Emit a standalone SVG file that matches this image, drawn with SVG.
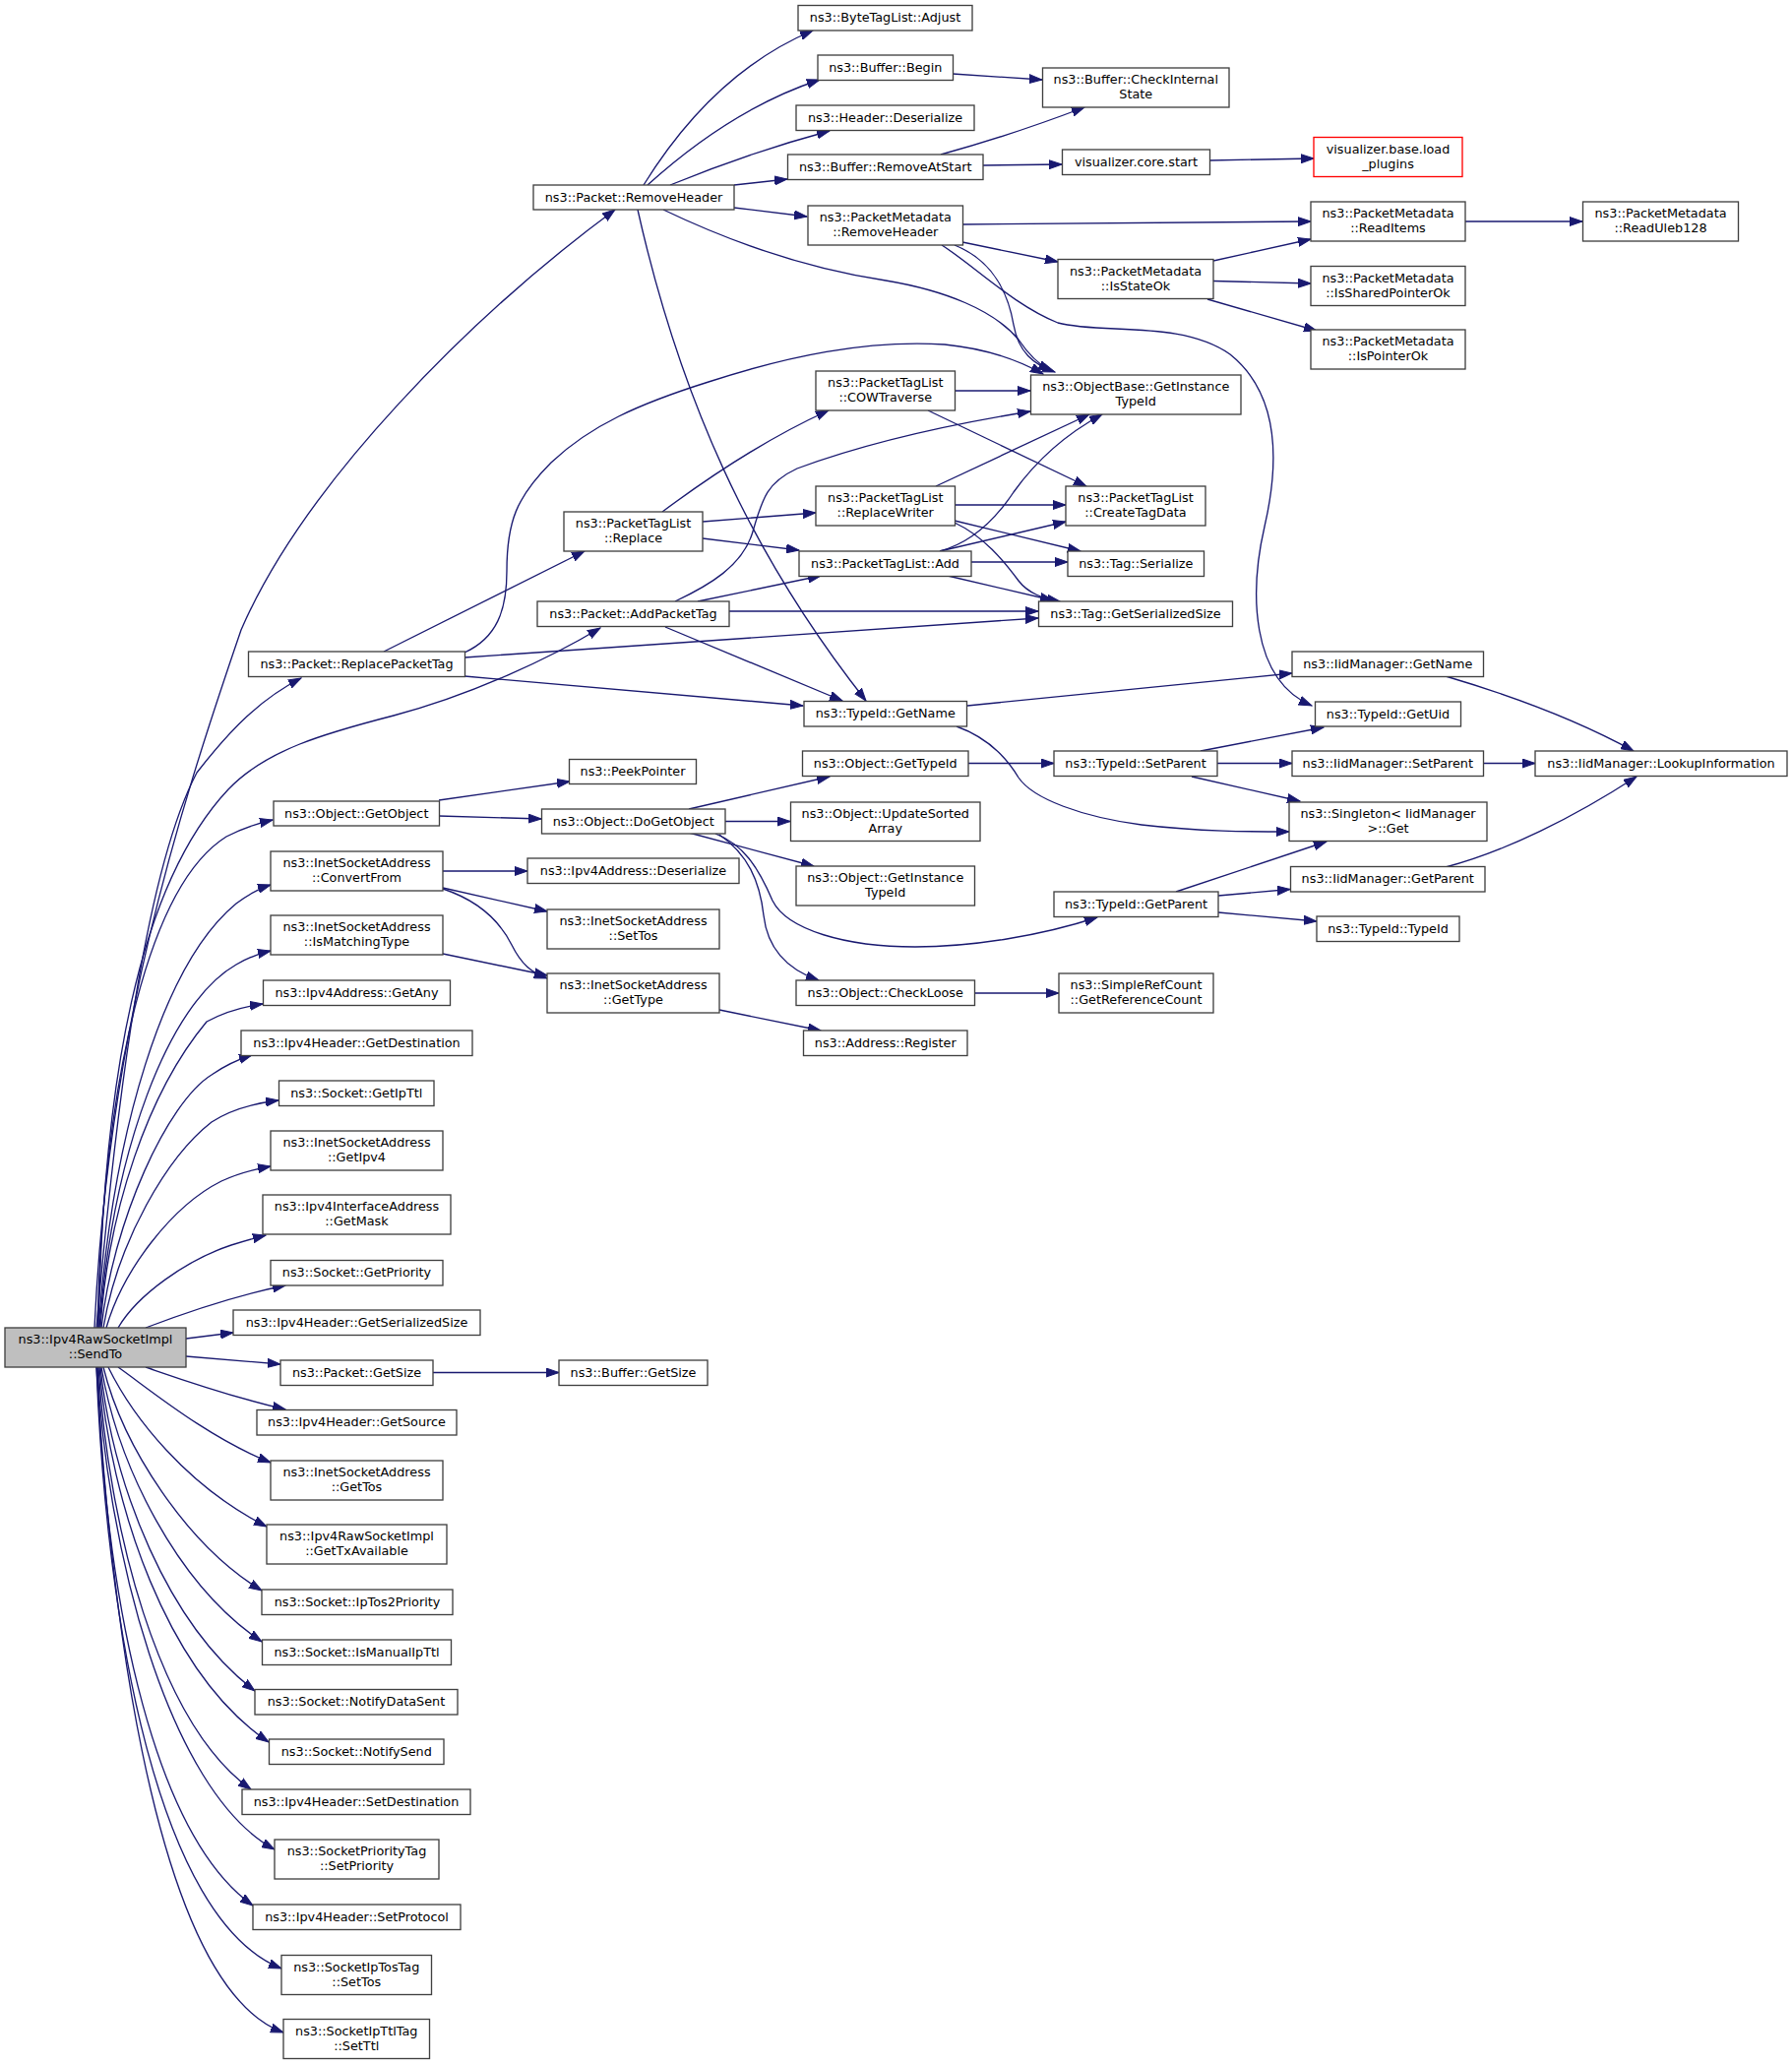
<svg xmlns="http://www.w3.org/2000/svg" width="1821" height="2097" viewBox="0 0 1821 2097">
<style>
.node rect{fill:#fff;stroke:#404040;stroke-width:1.33}
.node text{font-family:"DejaVu Sans","Liberation Sans",sans-serif;font-size:12.8px;text-anchor:middle;fill:#000}
.root rect{fill:#bfbfbf}
.ext rect{stroke:#ff0000}
.edges path{fill:none;stroke:#191970;stroke-width:1.33;marker-end:url(#arr)}
</style>
<defs>
<marker id="arr" markerUnits="userSpaceOnUse" markerWidth="14" markerHeight="10" refX="13" refY="5" orient="auto" viewBox="0 0 14 10">
<path d="M0,0.5 L13,5 L0,9.5 z" fill="#191970" stroke="#191970" stroke-width="1"/>
</marker>
</defs>
<rect width="1821" height="2097" fill="#fff"/>
<g class="edges" id="edges">
<!-- SendTo upward -->
<path d="M96,1349 C110,1050 180,830 245,640 C310,490 480,320 625,213"/>
<path d="M98,1349 C120,1100 150,880 200,785 C235,740 265,710 306,689"/>
<path d="M100,1349 C105,1100 140,900 232,802 C270,762 330,745 400,727 C480,706 560,668 610,638"/>
<path d="M99,1349 C105,1100 150,900 230,850 C245,842 260,837 277,833"/>
<path d="M100,1349 C115,1150 165,980 240,918 C252,909 262,903 275,899"/>
<path d="M101,1349 C115,1170 170,1020 240,980 C252,973 262,969 275,966"/>
<path d="M102,1349 C110,1230 150,1110 210,1038 C228,1028 245,1023 267,1020"/>
<path d="M103,1349 C115,1240 170,1120 215,1092 C228,1083 240,1077 256,1072"/>
<path d="M105,1349 C120,1260 170,1175 215,1140 C235,1127 258,1121 283,1118"/>
<path d="M108,1349 C125,1290 175,1225 225,1200 C242,1192 258,1188 275,1185"/>
<path d="M120,1349 C140,1315 190,1280 235,1265 C248,1261 258,1258 270,1255"/>
<path d="M148,1349 C190,1333 240,1316 290,1306"/>
<path d="M189,1360 L237,1354"/>
<path d="M189,1378 L285,1386"/>
<!-- SendTo downward -->
<path d="M148,1389 C180,1400 230,1418 290,1432"/>
<path d="M120,1389 C150,1410 210,1460 275,1486"/>
<path d="M110,1389 C135,1440 190,1510 271,1551"/>
<path d="M105,1389 C125,1470 190,1570 266,1616"/>
<path d="M103,1389 C120,1490 180,1610 266,1668"/>
<path d="M102,1389 C115,1510 170,1650 259,1718"/>
<path d="M101,1389 C112,1530 170,1700 273,1770"/>
<path d="M100,1389 C110,1550 160,1750 255,1818"/>
<path d="M99,1389 C108,1570 170,1820 279,1879"/>
<path d="M99,1389 C105,1600 150,1860 257,1936"/>
<path d="M98,1389 C108,1650 160,1950 286,2000"/>
<path d="M98,1389 C115,1680 165,2020 288,2065"/>
<!-- Packet::RemoveHeader -->
<path d="M654,188 C690,130 745,65 826,31"/>
<path d="M658,188 C700,150 760,105 833,81"/>
<path d="M681,188 C720,172 780,150 843,133"/>
<path d="M746,188 L800,182"/>
<path d="M746,211 L820,220"/>
<path d="M674,213 C720,235 800,270 900,285 C960,295 1010,315 1035,345 C1045,360 1055,370 1068,377"/>
<path d="M648,213 C690,400 760,560 880,712"/>
<!-- Buffer -->
<path d="M968,75 L1059,81"/>
<path d="M956,157 C1000,145 1060,125 1102,109"/>
<path d="M999,168 L1079,167"/>
<path d="M1229,163 L1335,161"/>
<!-- PacketMetadata -->
<path d="M978,228 L1332,225"/>
<path d="M978,246 L1075,266"/>
<path d="M970,249 C1010,265 1025,300 1030,330 C1035,358 1050,370 1072,378"/>
<path d="M957,249 C990,270 1030,310 1075,328 C1120,340 1200,325 1250,360 C1300,400 1300,470 1285,535 C1270,600 1270,690 1333,717"/>
<path d="M1233,265 L1332,243"/>
<path d="M1233,285.5 L1332,288"/>
<path d="M1227,304 L1338,336"/>
<path d="M1489,225 L1608,225"/>
<!-- Tags -->
<path d="M390,662 L594,560"/>
<path d="M472,663 C505,648 515,620 515,580 C515,530 525,505 560,470 C600,432 650,410 720,388 C800,362 880,345 960,350 C1000,354 1035,366 1060,380"/>
<path d="M472,668 L1055,628"/>
<path d="M472,687 L816,717"/>
<path d="M686,611 C720,595 755,575 765,540 C775,505 780,490 810,476 C880,450 960,432 1047,418"/>
<path d="M709,611 L834,585"/>
<path d="M741,621 L1055,621"/>
<path d="M676,637 L856,712"/>
<path d="M673,520 C720,485 780,445 842,417"/>
<path d="M714,530 L829,521"/>
<path d="M714,547 L812,559"/>
<path d="M970,397 L1047,397"/>
<path d="M943,417 L1104,494"/>
<path d="M951,494 L1107,421"/>
<path d="M970,513 L1083,513"/>
<path d="M970,529 L1098,560"/>
<path d="M970,531 C1000,545 1020,570 1035,590 C1045,603 1060,608 1077,611"/>
<path d="M955,560 C985,552 1010,530 1030,500 C1055,465 1085,440 1120,421"/>
<path d="M955,560 L1083,530"/>
<path d="M987,571 L1085,571"/>
<path d="M963,585 L1070,610"/>
<!-- TypeId / IidManager -->
<path d="M983,717 L1313,684"/>
<path d="M972,738 C1000,748 1020,765 1035,790 C1050,812 1100,830 1160,838 C1220,845 1270,845 1310,845"/>
<path d="M1469,687 C1530,705 1600,730 1660,763"/>
<path d="M1508,775.5 L1560,775.5"/>
<path d="M1469,881 C1530,865 1600,830 1663,789"/>
<path d="M1220,763 L1345,739"/>
<path d="M1237,775.5 L1313,775.5"/>
<path d="M1211,789 L1321,814"/>
<path d="M984,775.5 L1071,775.5"/>
<!-- DoGetObject -->
<path d="M700,822 L843,789"/>
<path d="M737,834.5 L803,834.5"/>
<path d="M700,846 L827,880"/>
<path d="M727,847 C755,858 770,880 785,915 C800,945 860,962 930,962 C990,962 1060,950 1115,932"/>
<path d="M731,848 C760,868 772,895 776,930 C780,965 800,985 832,996"/>
<path d="M1195,906 L1348,855"/>
<path d="M1238,910 L1311,903.5"/>
<path d="M1238,927 L1338,936"/>
<path d="M990,1009 L1076,1009"/>
<!-- GetObject / Address -->
<path d="M446,813 L579,794"/>
<path d="M446,829 L550,832"/>
<path d="M450,885 L536,885"/>
<path d="M450,902 L556,926"/>
<path d="M450,903 C480,913 505,930 520,960 C530,980 540,988 556,994"/>
<path d="M450,969 L556,991"/>
<path d="M731,1026 L834,1047"/>
<path d="M440,1394.5 L568,1394.5"/>
</g>
<g id="n_sendto" class="node root"><rect x="5" y="1349" width="184" height="40"/><text x="97" y="1365">ns3::Ipv4RawSocketImpl</text><text x="97" y="1380">::SendTo</text></g>
<g id="n_removeheader" class="node"><rect x="542" y="188" width="204" height="25"/><text x="644" y="204.5">ns3::Packet::RemoveHeader</text></g>
<g id="n_adjust" class="node"><rect x="811" y="5.5" width="177" height="25.5"/><text x="899.5" y="22">ns3::ByteTagList::Adjust</text></g>
<g id="n_begin" class="node"><rect x="831" y="56" width="137.5" height="25.5"/><text x="899.75" y="72.5">ns3::Buffer::Begin</text></g>
<g id="n_checkinternal" class="node"><rect x="1059.5" y="69" width="189.5" height="40"/><text x="1154.25" y="85">ns3::Buffer::CheckInternal</text><text x="1154.25" y="100">State</text></g>
<g id="n_headerdeser" class="node"><rect x="809" y="107" width="181" height="25.5"/><text x="899.5" y="123.5">ns3::Header::Deserialize</text></g>
<g id="n_removeatstart" class="node"><rect x="800.5" y="157" width="198.5" height="25.5"/><text x="899.75" y="173.5">ns3::Buffer::RemoveAtStart</text></g>
<g id="n_corestart" class="node"><rect x="1079.5" y="152" width="150" height="25.5"/><text x="1154.5" y="168.5">visualizer.core.start</text></g>
<g id="n_loadplugins" class="node ext"><rect x="1335" y="139.5" width="151" height="40"/><text x="1410.5" y="155.5">visualizer.base.load</text><text x="1410.5" y="170.5">_plugins</text></g>
<g id="n_pmremoveheader" class="node"><rect x="821" y="209" width="157.5" height="40"/><text x="899.75" y="225">ns3::PacketMetadata</text><text x="899.75" y="240">::RemoveHeader</text></g>
<g id="n_readitems" class="node"><rect x="1332" y="205" width="157" height="40"/><text x="1410.5" y="221">ns3::PacketMetadata</text><text x="1410.5" y="236">::ReadItems</text></g>
<g id="n_readuleb" class="node"><rect x="1608.5" y="205" width="158" height="40"/><text x="1687.5" y="221">ns3::PacketMetadata</text><text x="1687.5" y="236">::ReadUleb128</text></g>
<g id="n_isstateok" class="node"><rect x="1075" y="263.5" width="158" height="40"/><text x="1154" y="279.5">ns3::PacketMetadata</text><text x="1154" y="294.5">::IsStateOk</text></g>
<g id="n_issharedptr" class="node"><rect x="1332" y="270.5" width="157" height="40"/><text x="1410.5" y="286.5">ns3::PacketMetadata</text><text x="1410.5" y="301.5">::IsSharedPointerOk</text></g>
<g id="n_isptrok" class="node"><rect x="1332" y="335" width="157" height="40"/><text x="1410.5" y="351">ns3::PacketMetadata</text><text x="1410.5" y="366">::IsPointerOk</text></g>
<g id="n_obgetinst" class="node"><rect x="1047.5" y="381" width="213.5" height="40"/><text x="1154.25" y="397">ns3::ObjectBase::GetInstance</text><text x="1154.25" y="412">TypeId</text></g>
<g id="n_cowtraverse" class="node"><rect x="829" y="377" width="141.5" height="40"/><text x="899.75" y="393">ns3::PacketTagList</text><text x="899.75" y="408">::COWTraverse</text></g>
<g id="n_replace" class="node"><rect x="573" y="520" width="141" height="40"/><text x="643.5" y="536">ns3::PacketTagList</text><text x="643.5" y="551">::Replace</text></g>
<g id="n_replacewriter" class="node"><rect x="829" y="494" width="141.5" height="40"/><text x="899.75" y="510">ns3::PacketTagList</text><text x="899.75" y="525">::ReplaceWriter</text></g>
<g id="n_createtagdata" class="node"><rect x="1083" y="494" width="142" height="40"/><text x="1154" y="510">ns3::PacketTagList</text><text x="1154" y="525">::CreateTagData</text></g>
<g id="n_ptladd" class="node"><rect x="812" y="560" width="175" height="25.5"/><text x="899.5" y="576.5">ns3::PacketTagList::Add</text></g>
<g id="n_tagserialize" class="node"><rect x="1085" y="560" width="138.5" height="25.5"/><text x="1154.25" y="576.5">ns3::Tag::Serialize</text></g>
<g id="n_addpackettag" class="node"><rect x="546" y="611" width="195" height="25.5"/><text x="643.5" y="627.5">ns3::Packet::AddPacketTag</text></g>
<g id="n_taggetsersize" class="node"><rect x="1055.5" y="611" width="197" height="25.5"/><text x="1154" y="627.5">ns3::Tag::GetSerializedSize</text></g>
<g id="n_replacepackettag" class="node"><rect x="252.5" y="662" width="220" height="25.5"/><text x="362.5" y="678.5">ns3::Packet::ReplacePacketTag</text></g>
<g id="n_iidgetname" class="node"><rect x="1313" y="662" width="194.5" height="25.5"/><text x="1410.25" y="678.5">ns3::IidManager::GetName</text></g>
<g id="n_typeidgetname" class="node"><rect x="817" y="712.5" width="165.5" height="25.5"/><text x="899.75" y="729">ns3::TypeId::GetName</text></g>
<g id="n_getuid" class="node"><rect x="1336.5" y="713" width="148" height="25"/><text x="1410.5" y="729.5">ns3::TypeId::GetUid</text></g>
<g id="n_peekpointer" class="node"><rect x="578.5" y="771.5" width="129" height="25"/><text x="643" y="788">ns3::PeekPointer</text></g>
<g id="n_getobject" class="node"><rect x="278" y="814" width="168.5" height="25"/><text x="362.25" y="830.5">ns3::Object::GetObject</text></g>
<g id="n_objgettypeid" class="node"><rect x="815.5" y="763" width="168.5" height="25.5"/><text x="899.75" y="779.5">ns3::Object::GetTypeId</text></g>
<g id="n_setparent" class="node"><rect x="1071" y="763" width="166" height="25.5"/><text x="1154" y="779.5">ns3::TypeId::SetParent</text></g>
<g id="n_iidsetparent" class="node"><rect x="1313" y="763" width="194.5" height="25.5"/><text x="1410.25" y="779.5">ns3::IidManager::SetParent</text></g>
<g id="n_lookup" class="node"><rect x="1560" y="763" width="256" height="25.5"/><text x="1688" y="779.5">ns3::IidManager::LookupInformation</text></g>
<g id="n_dogetobject" class="node"><rect x="550.5" y="822" width="186.5" height="25"/><text x="643.75" y="838.5">ns3::Object::DoGetObject</text></g>
<g id="n_updatesorted" class="node"><rect x="803.5" y="815" width="192.5" height="39.5"/><text x="899.75" y="831">ns3::Object::UpdateSorted</text><text x="899.75" y="846">Array</text></g>
<g id="n_singleton" class="node"><rect x="1310" y="815" width="201" height="39.5"/><text x="1410.5" y="831">ns3::Singleton&lt; IidManager</text><text x="1410.5" y="846">&gt;::Get</text></g>
<g id="n_convertfrom" class="node"><rect x="275" y="865" width="175" height="40"/><text x="362.5" y="881">ns3::InetSocketAddress</text><text x="362.5" y="896">::ConvertFrom</text></g>
<g id="n_ipv4deser" class="node"><rect x="536" y="872" width="215" height="25.5"/><text x="643.5" y="888.5">ns3::Ipv4Address::Deserialize</text></g>
<g id="n_objgetinst" class="node"><rect x="809" y="880" width="181.5" height="40"/><text x="899.75" y="896">ns3::Object::GetInstance</text><text x="899.75" y="911">TypeId</text></g>
<g id="n_iidgetparent" class="node"><rect x="1311.5" y="880.5" width="197.5" height="25.5"/><text x="1410.25" y="897">ns3::IidManager::GetParent</text></g>
<g id="n_getparent" class="node"><rect x="1071" y="906" width="167" height="25.5"/><text x="1154.5" y="922.5">ns3::TypeId::GetParent</text></g>
<g id="n_inetsettos" class="node"><rect x="556" y="924" width="175" height="40"/><text x="643.5" y="940">ns3::InetSocketAddress</text><text x="643.5" y="955">::SetTos</text></g>
<g id="n_ismatching" class="node"><rect x="275" y="930" width="175" height="40"/><text x="362.5" y="946">ns3::InetSocketAddress</text><text x="362.5" y="961">::IsMatchingType</text></g>
<g id="n_typeidtypeid" class="node"><rect x="1338" y="931" width="145" height="25.5"/><text x="1410.5" y="947.5">ns3::TypeId::TypeId</text></g>
<g id="n_gettype" class="node"><rect x="556" y="989" width="175" height="40"/><text x="643.5" y="1005">ns3::InetSocketAddress</text><text x="643.5" y="1020">::GetType</text></g>
<g id="n_getany" class="node"><rect x="267.5" y="996" width="190" height="25.5"/><text x="362.5" y="1012.5">ns3::Ipv4Address::GetAny</text></g>
<g id="n_checkloose" class="node"><rect x="809" y="996" width="181.5" height="25.5"/><text x="899.75" y="1012.5">ns3::Object::CheckLoose</text></g>
<g id="n_refcount" class="node"><rect x="1076" y="989" width="157" height="40"/><text x="1154.5" y="1005">ns3::SimpleRefCount</text><text x="1154.5" y="1020">::GetReferenceCount</text></g>
<g id="n_getdest" class="node"><rect x="245" y="1047" width="235" height="25.5"/><text x="362.5" y="1063.5">ns3::Ipv4Header::GetDestination</text></g>
<g id="n_register" class="node"><rect x="816.5" y="1047" width="166.5" height="25.5"/><text x="899.75" y="1063.5">ns3::Address::Register</text></g>
<g id="n_getipttl" class="node"><rect x="283.5" y="1098" width="157.5" height="25.5"/><text x="362.25" y="1114.5">ns3::Socket::GetIpTtl</text></g>
<g id="n_getipv4" class="node"><rect x="275" y="1149" width="175" height="40"/><text x="362.5" y="1165">ns3::InetSocketAddress</text><text x="362.5" y="1180">::GetIpv4</text></g>
<g id="n_getmask" class="node"><rect x="267" y="1214" width="191" height="40"/><text x="362.5" y="1230">ns3::Ipv4InterfaceAddress</text><text x="362.5" y="1245">::GetMask</text></g>
<g id="n_getpriority" class="node"><rect x="275" y="1280.5" width="175" height="25.5"/><text x="362.5" y="1297">ns3::Socket::GetPriority</text></g>
<g id="n_hdrsersize" class="node"><rect x="237" y="1331" width="251" height="25.5"/><text x="362.5" y="1347.5">ns3::Ipv4Header::GetSerializedSize</text></g>
<g id="n_packetgetsize" class="node"><rect x="285" y="1382" width="155" height="25.5"/><text x="362.5" y="1398.5">ns3::Packet::GetSize</text></g>
<g id="n_buffergetsize" class="node"><rect x="568" y="1382" width="151" height="25.5"/><text x="643.5" y="1398.5">ns3::Buffer::GetSize</text></g>
<g id="n_getsource" class="node"><rect x="261" y="1432.5" width="203" height="25.5"/><text x="362.5" y="1449">ns3::Ipv4Header::GetSource</text></g>
<g id="n_gettos" class="node"><rect x="275" y="1484" width="175" height="40"/><text x="362.5" y="1500">ns3::InetSocketAddress</text><text x="362.5" y="1515">::GetTos</text></g>
<g id="n_gettxavail" class="node"><rect x="271" y="1549" width="183" height="40"/><text x="362.5" y="1565">ns3::Ipv4RawSocketImpl</text><text x="362.5" y="1580">::GetTxAvailable</text></g>
<g id="n_iptos2prio" class="node"><rect x="266" y="1615" width="194" height="25.5"/><text x="363" y="1631.5">ns3::Socket::IpTos2Priority</text></g>
<g id="n_ismanualipttl" class="node"><rect x="266.5" y="1666" width="192" height="25.5"/><text x="362.5" y="1682.5">ns3::Socket::IsManualIpTtl</text></g>
<g id="n_notifydatasent" class="node"><rect x="259" y="1716.5" width="206" height="25.5"/><text x="362" y="1733">ns3::Socket::NotifyDataSent</text></g>
<g id="n_notifysend" class="node"><rect x="273.5" y="1767" width="177.5" height="25.5"/><text x="362.25" y="1783.5">ns3::Socket::NotifySend</text></g>
<g id="n_setdest" class="node"><rect x="246" y="1818" width="232" height="25.5"/><text x="362" y="1834.5">ns3::Ipv4Header::SetDestination</text></g>
<g id="n_setpriority" class="node"><rect x="279" y="1869" width="167" height="40"/><text x="362.5" y="1885">ns3::SocketPriorityTag</text><text x="362.5" y="1900">::SetPriority</text></g>
<g id="n_setprotocol" class="node"><rect x="257" y="1935" width="211" height="25.5"/><text x="362.5" y="1951.5">ns3::Ipv4Header::SetProtocol</text></g>
<g id="n_tossettos" class="node"><rect x="286" y="1986.5" width="152.5" height="40"/><text x="362.25" y="2002.5">ns3::SocketIpTosTag</text><text x="362.25" y="2017.5">::SetTos</text></g>
<g id="n_setttl" class="node"><rect x="288" y="2051.5" width="148.5" height="40"/><text x="362.25" y="2067.5">ns3::SocketIpTtlTag</text><text x="362.25" y="2082.5">::SetTtl</text></g>
</svg>
